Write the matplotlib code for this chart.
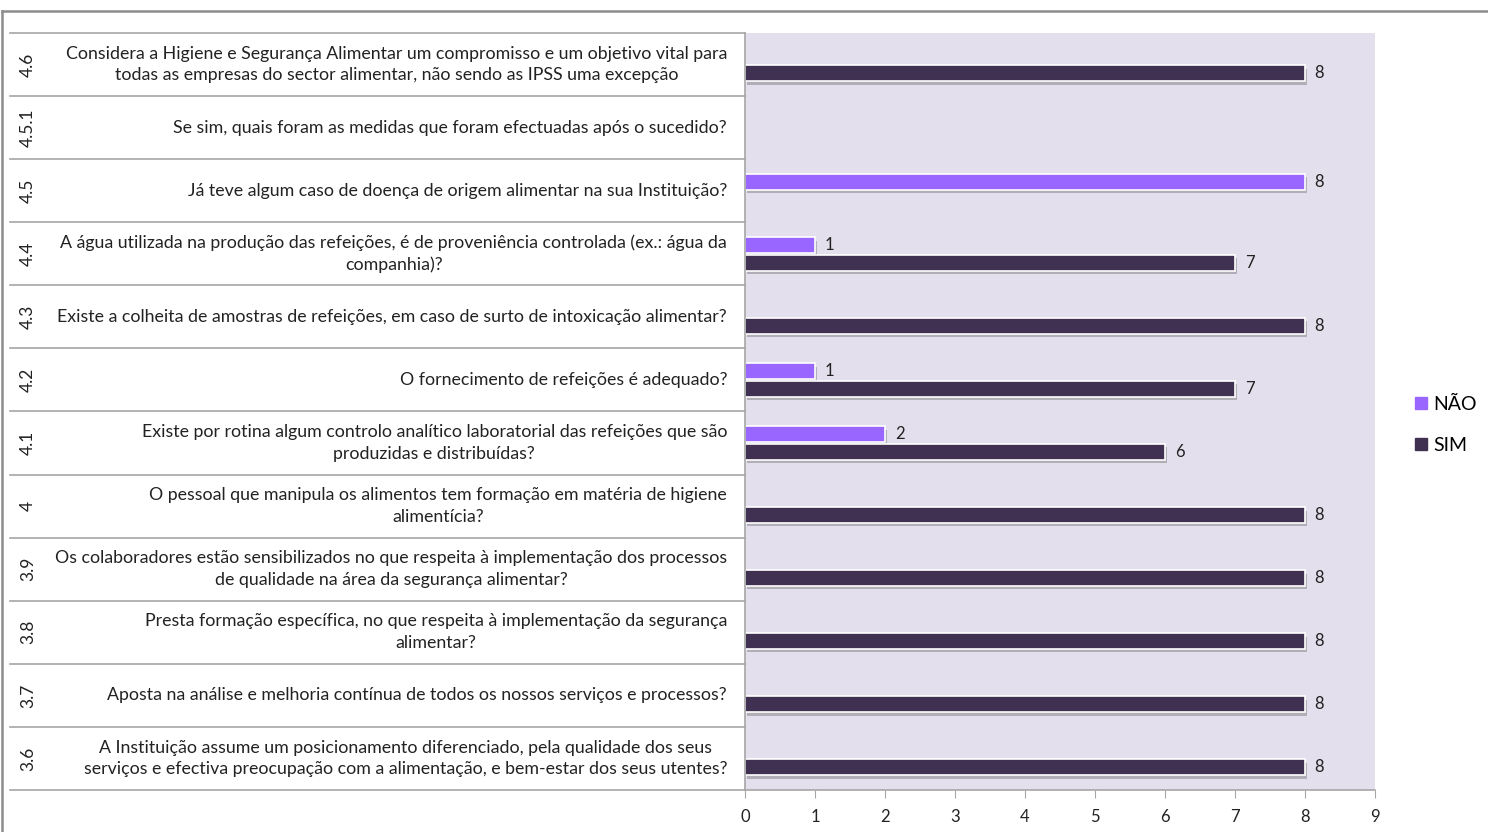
import matplotlib
matplotlib.use("Agg")
import matplotlib.pyplot as plt
import matplotlib.patheffects as pe
from matplotlib.lines import Line2D
import numpy as np

plt.rcParams['font.family'] = ['Lato', 'DejaVu Sans']

# Data (bottom to top)
codes = ["3.6", "3.7", "3.8", "3.9", "4", "4.1", "4.2", "4.3", "4.4", "4.5", "4.5.1", "4.6"]
questions = [
    "A Instituição assume um posicionamento diferenciado, pela qualidade dos seus\nserviços e efectiva preocupação com a alimentação, e bem-estar dos seus utentes?",
    "Aposta na análise e melhoria contínua de todos os nossos serviços e processos?",
    "Presta formação específica, no que respeita à implementação da segurança\nalimentar?",
    "Os colaboradores estão sensibilizados no que respeita à implementação dos processos\nde qualidade na área da segurança alimentar?",
    "O pessoal que manipula os alimentos tem formação em matéria de higiene\nalimentícia?",
    "Existe por rotina algum controlo analítico laboratorial das refeições que são\nproduzidas e distribuídas?",
    "O fornecimento de refeições é adequado?",
    "Existe a colheita de amostras de refeições, em caso de surto de intoxicação alimentar?",
    "A água utilizada na produção das refeições, é de proveniência controlada (ex.: água da\ncompanhia)?",
    "Já teve algum caso de doença de origem alimentar na sua Instituição?",
    "Se sim, quais foram as medidas que foram efectuadas após o sucedido?",
    "Considera a Higiene e Segurança Alimentar um compromisso e um objetivo vital para\ntodas as empresas do sector alimentar, não sendo as IPSS uma excepção",
]
nao = [np.nan, np.nan, np.nan, np.nan, np.nan, 2, 1, np.nan, 1, 8, np.nan, np.nan]
sim = [8, 8, 8, 8, 8, 6, 7, 8, 7, np.nan, np.nan, 8]
series_names = ["NÃO", "SIM"]
xticks = list(range(0, 10))

c_nao = "#9966FF"
c_sim = "#403152"
bg = "#E4DFEC"
grey = "#A6A6A6"
fs = 12.8

W, H = 1488, 832
fig = plt.figure(figsize=(W / 100, H / 100), dpi=100)
ax = fig.add_axes([745 / W, 1 - 790 / H, 630 / W, 757 / H])
ax.set_facecolor(bg)

y = np.arange(len(codes))
off = 0.14
h = 0.25
shadow = [pe.SimplePatchShadow(offset=(1.5, -2.5), shadow_rgbFace="#555555", alpha=0.35), pe.Normal()]
b1 = ax.barh(y + off, np.nan_to_num(nao), height=h, color=c_nao, edgecolor="white", linewidth=1.2)
b2 = ax.barh(y - off, np.nan_to_num(sim), height=h, color=c_sim, edgecolor="white", linewidth=1.2)
for bars, vals in ((b1, nao), (b2, sim)):
    for bar, v in zip(bars, vals):
        if np.isnan(v):
            bar.set_visible(False)
            continue
        bar.set_path_effects(shadow)
        ax.annotate(f"{int(v)}", (v, bar.get_y() + bar.get_height() / 2),
                    xytext=(7, 0), textcoords="offset points", va="center", ha="left",
                    fontsize=12, color="#222222")

ax.set_xlim(0, 9)
ax.set_ylim(-0.5, len(codes) - 0.5)
ax.set_xticks(xticks)
ax.set_xticklabels([str(t) for t in xticks], fontsize=12, color="#222222")
ax.tick_params(axis="x", direction="out", length=6, color=grey, pad=8)
ax.set_yticks([])
for s in ["top", "right"]:
    ax.spines[s].set_visible(False)
ax.spines["left"].set_color(grey)
ax.spines["bottom"].set_color(grey)
ax.spines["left"].set_linewidth(1.2)
ax.spines["bottom"].set_linewidth(1.2)

# left table
x0 = (10 - 745) / 630
for b in np.arange(-0.5, len(codes), 1.0):
    ax.plot([x0, 0], [b, b], transform=ax.get_yaxis_transform(), color=grey,
            linewidth=1.2, clip_on=False)
xcode = (28 - 745) / 630
xq = (727 - 745) / 630
for yi, c, q in zip(y, codes, questions):
    ax.text(xcode, yi, c, transform=ax.get_yaxis_transform(), rotation=90,
            ha="center", va="center", fontsize=12.5, color="#222222")
    ax.text(xq, yi, q, transform=ax.get_yaxis_transform(), ha="right",
            va="center", fontsize=fs, color="#222222", multialignment="center",
            linespacing=1.45)

# legend
handles = [Line2D([], [], marker="s", linestyle="none", markersize=8, color=c_nao),
           Line2D([], [], marker="s", linestyle="none", markersize=8, color=c_sim)]
fig.legend(handles, series_names, loc="center left",
           bbox_to_anchor=(1398 / W, 1 - 425 / H), frameon=False, fontsize=14,
           handlelength=0.6, handletextpad=0.3, labelspacing=1.25)

# outer border
fig.add_artist(Line2D([2 / W, 1], [1 - 11 / H, 1 - 11 / H], color="#8C8C8C", linewidth=1.8))
fig.add_artist(Line2D([2 / W, 2 / W], [0, 1 - 11 / H], color="#8C8C8C", linewidth=1.8))

fig.savefig("out.png", dpi=100, facecolor="white")
